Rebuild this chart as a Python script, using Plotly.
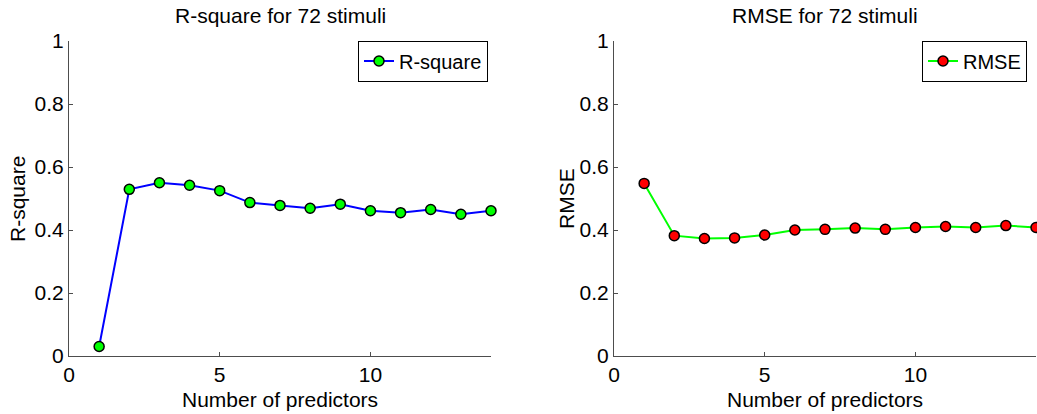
import plotly.graph_objects as go

# Number of predictors used in the model
n_predictors = list(range(1, 15))

# Goodness-of-fit per model size
r_square = [0.030, 0.529, 0.550, 0.542, 0.525, 0.487, 0.478, 0.469,
            0.482, 0.461, 0.455, 0.465, 0.450, 0.461]
rmse = [0.548, 0.382, 0.373, 0.375, 0.384, 0.400, 0.402, 0.406,
        0.402, 0.408, 0.411, 0.408, 0.414, 0.408]

y_ticks = [0, 0.2, 0.4, 0.6, 0.8, 1]
x_ticks = [0, 5, 10]

W, H = 1037, 414
FONT = "Liberation Sans, Arial, Helvetica, sans-serif"
FS = 21
AX_COLOR = "#4d4d4d"

fig = go.Figure()

fig.add_trace(go.Scatter(
    x=n_predictors, y=r_square, name="R-square", mode="lines+markers",
    line=dict(color="#0000ff", width=2),
    marker=dict(size=10, color="#00ff00", line=dict(color="black", width=1.5)),
    xaxis="x", yaxis="y", legend="legend", showlegend=True, cliponaxis=False,
))
fig.add_trace(go.Scatter(
    x=n_predictors, y=rmse, name="RMSE", mode="lines+markers",
    line=dict(color="#00ff00", width=2),
    marker=dict(size=10, color="#ff0000", line=dict(color="black", width=1.5)),
    xaxis="x2", yaxis="y2", legend="legend2", showlegend=True, cliponaxis=False,
))

left_dom = [69 / W, 491 / W]
right_dom = [614 / W, 1036 / W]
y_dom = [1 - 356 / H, 1 - 41 / H]

def xaxis(domain, anchor):
    return dict(domain=domain, anchor=anchor, range=[0, 14], tickvals=x_ticks,
                showgrid=False, zeroline=False, showline=True, linecolor=AX_COLOR,
                linewidth=1, ticks="inside", ticklen=4, tickcolor=AX_COLOR,
                tickfont=dict(family=FONT, size=FS, color="black"), automargin=False)

def yaxis(anchor):
    return dict(domain=y_dom, anchor=anchor, range=[0, 1], tickvals=y_ticks,
                showgrid=False, zeroline=False, showline=True, linecolor=AX_COLOR,
                linewidth=1, ticks="inside", ticklen=4, tickcolor=AX_COLOR,
                tickfont=dict(family=FONT, size=FS, color="black"), automargin=False)

legend_style = dict(bgcolor="white", bordercolor="black", borderwidth=1,
                    font=dict(family=FONT, size=20, color="black"),
                    yanchor="middle", itemwidth=30, tracegroupgap=0)

fig.update_layout(
    width=W, height=H,
    margin=dict(l=0, r=0, t=0, b=0),
    paper_bgcolor="white", plot_bgcolor="white",
    font=dict(family=FONT, size=FS, color="black"),
    showlegend=True,
    xaxis=xaxis(left_dom, "y"), yaxis=yaxis("x"),
    xaxis2=xaxis(right_dom, "y2"), yaxis2=yaxis("x2"),
    legend=dict(x=488 / W, xanchor="right", y=1 - 61 / H, **legend_style),
    legend2=dict(x=1027 / W, xanchor="right", y=1 - 61 / H, **legend_style),
)

annotations = [
    dict(text="R-square for 72 stimuli", x=(left_dom[0] + left_dom[1]) / 2, y=1 - 16 / H),
    dict(text="RMSE for 72 stimuli", x=(right_dom[0] + right_dom[1]) / 2, y=1 - 16 / H),
    dict(text="Number of predictors", x=(left_dom[0] + left_dom[1]) / 2, y=1 - 399 / H),
    dict(text="Number of predictors", x=(right_dom[0] + right_dom[1]) / 2, y=1 - 399 / H),
    dict(text="R-square", x=17 / W, y=1 - 199 / H, textangle=-90),
    dict(text="RMSE", x=566 / W, y=1 - 199 / H, textangle=-90),
]
for a in annotations:
    fig.add_annotation(xref="paper", yref="paper", showarrow=False,
                       xanchor="center", yanchor="middle",
                       font=dict(family=FONT, size=FS, color="black"), **a)

fig.write_html("out.html")
